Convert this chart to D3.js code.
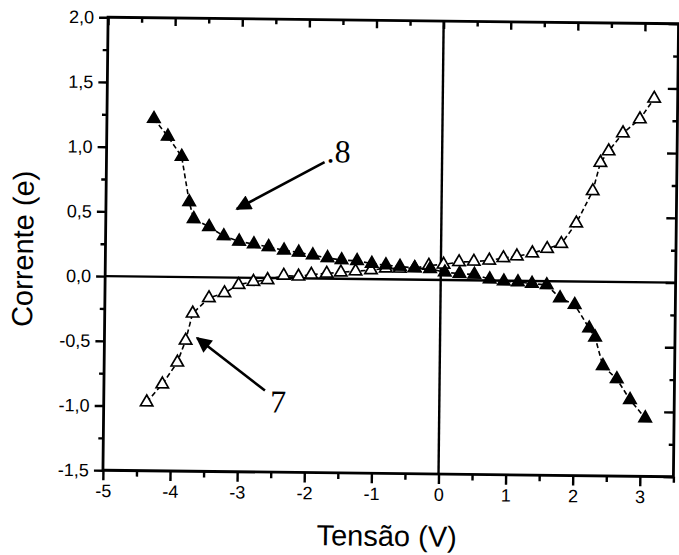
<!DOCTYPE html>
<html>
<head>
<meta charset="utf-8">
<script src="https://cdn.jsdelivr.net/npm/d3@7/dist/d3.min.js"></script>
<style>
  body { margin: 0; background: #fff; }
  svg { display: block; }
  .tick-label { font-family: "Liberation Sans", Arial, sans-serif; font-size: 18px; fill: #000; }
  .title { font-family: "Liberation Sans", Arial, sans-serif; font-size: 29px; fill: #000; }
  .note { font-family: "Liberation Serif", "Times New Roman", serif; font-size: 32px; fill: #000; }
</style>
</head>
<body>
<div id="chart"></div>
<script>
// curve with filled triangles (upper left -> lower right)
var voltFilled = [-4.30,-4.09,-3.88,-3.76,-3.69,-3.46,-3.24,-3.01,-2.79,-2.57,-2.34,-2.12,-1.91,-1.69,-1.48,-1.25,-1.03,-0.82,-0.61,-0.39,-0.16,0.06,0.28,0.50,0.73,0.94,1.15,1.36,1.58,1.78,2.00,2.22,2.31,2.43,2.64,2.84,3.07];
var currFilled = [1.22,1.085,0.93,0.58,0.45,0.39,0.32,0.28,0.26,0.24,0.215,0.20,0.18,0.16,0.145,0.14,0.12,0.11,0.10,0.09,0.085,0.06,0.05,0.045,0.01,-0.005,-0.01,-0.02,-0.03,-0.13,-0.18,-0.36,-0.43,-0.65,-0.75,-0.91,-1.05];
// curve with open triangles (lower left -> upper right)
var voltOpen = [-4.36,-4.13,-3.91,-3.79,-3.69,-3.45,-3.22,-3.01,-2.79,-2.58,-2.34,-2.12,-1.93,-1.70,-1.49,-1.27,-1.04,-0.82,-0.61,-0.39,-0.18,0.04,0.27,0.49,0.72,0.93,1.13,1.36,1.58,1.79,2.01,2.25,2.36,2.48,2.69,2.94,3.15];
var currOpen = [-0.97,-0.83,-0.66,-0.49,-0.28,-0.16,-0.12,-0.055,-0.03,-0.015,0.02,0.015,0.03,0.04,0.05,0.06,0.07,0.085,0.085,0.09,0.11,0.12,0.14,0.145,0.155,0.175,0.19,0.215,0.25,0.29,0.45,0.70,0.92,1.01,1.15,1.26,1.42];
var xTicks = [-5,-4,-3,-2,-1,0,1,2,3];
var xMinor = [-4.5,-3.5,-2.5,-1.5,-0.5,0.5,1.5,2.5,3.5];
var yTicks = [-1.5,-1.0,-0.5,0.0,0.5,1.0,1.5,2.0];
var yMinor = [-1.25,-0.75,-0.25,0.25,0.75,1.25,1.75];
var xLabel = "Tensão (V)";
var yLabel = "Corrente (e)";

var W = 679, H = 555;
var pLeft = 105.5, pRight = 676, pTop = 20.5, pBottom = 473.5;

var svg = d3.select("#chart").append("svg")
    .attr("width", W)
    .attr("height", H);

// the scanned page is slightly tilted
var g = svg.append("g")
    .attr("transform", "rotate(0.65," + ((pLeft + pRight) / 2) + "," + ((pTop + pBottom) / 2) + ")");

var x = d3.scaleLinear().domain([-5, 3.5]).range([pLeft, pRight]);
var y = d3.scaleLinear().domain([-1.5, 2.0]).range([pBottom, pTop]);

var ptBR = d3.formatLocale({decimal: ",", thousands: ".", grouping: [3], currency: ["", ""], minus: "-"});
var fmtY = ptBR.format(".1f");
var fmtX = ptBR.format("d");

//axes: bottom/left ticks outward, top/right mirror ticks inward
function styleAxis(sel) {
    sel.select(".domain").remove();
    sel.selectAll("line").attr("stroke", "#000").attr("stroke-width", 2.4);
}
g.append("g").attr("transform", "translate(0," + pBottom + ")")
    .call(d3.axisBottom(x).tickValues(xTicks).tickSize(10).tickPadding(4).tickFormat(fmtX))
    .call(styleAxis)
    .selectAll("text").attr("class", "tick-label");
g.append("g").attr("transform", "translate(0," + pBottom + ")")
    .call(d3.axisBottom(x).tickValues(xMinor).tickSize(6).tickFormat(""))
    .call(styleAxis);
g.append("g").attr("transform", "translate(" + pLeft + ",0)")
    .call(d3.axisLeft(y).tickValues(yTicks).tickSize(9).tickPadding(5).tickFormat(fmtY))
    .call(styleAxis)
    .selectAll("text").attr("class", "tick-label");
g.append("g").attr("transform", "translate(" + pLeft + ",0)")
    .call(d3.axisLeft(y).tickValues(yMinor).tickSize(5).tickFormat(""))
    .call(styleAxis);
g.append("g").attr("transform", "translate(0," + pTop + ")")
    .call(d3.axisBottom(x).tickValues(xTicks).tickSize(8).tickFormat(""))
    .call(styleAxis);
g.append("g").attr("transform", "translate(0," + pTop + ")")
    .call(d3.axisBottom(x).tickValues(xMinor).tickSize(5).tickFormat(""))
    .call(styleAxis);
g.append("g").attr("transform", "translate(" + pRight + ",0)")
    .call(d3.axisRight(y).tickValues(yTicks).tickSize(-10).tickFormat(""))
    .call(styleAxis);
g.append("g").attr("transform", "translate(" + pRight + ",0)")
    .call(d3.axisRight(y).tickValues(yMinor).tickSize(-5).tickFormat(""))
    .call(styleAxis);

// axis() puts its own font attrs on the group, let the css win
g.selectAll("g").attr("font-size", null).attr("font-family", null);

// frame
g.append("rect")
    .attr("x", pLeft).attr("y", pTop)
    .attr("width", pRight - pLeft).attr("height", pBottom - pTop)
    .attr("fill", "none").attr("stroke", "#000").attr("stroke-width", 2.8);

// zero lines
g.append("line")
    .attr("x1", pLeft).attr("x2", pRight)
    .attr("y1", y(0)).attr("y2", y(0))
    .attr("stroke", "#000").attr("stroke-width", 2.4);
g.append("line")
    .attr("x1", x(0)).attr("x2", x(0))
    .attr("y1", pTop).attr("y2", pBottom)
    .attr("stroke", "#000").attr("stroke-width", 2.4);

var line = d3.line().x(function (d) { return x(d[0]); }).y(function (d) { return y(d[1]); });
var tri = d3.symbol().type(d3.symbolTriangle).size(66);

function drawSeries(vs, cs, fill) {
    var pts = vs.map(function (v, i) { return [v, cs[i]]; });
    g.append("path")
        .datum(pts)
        .attr("d", line)
        .attr("fill", "none")
        .attr("stroke", "#000")
        .attr("stroke-width", 1.6)
        .attr("stroke-dasharray", "5,3");
    g.append("g").selectAll("path")
        .data(pts)
        .enter().append("path")
        .attr("d", tri)
        .attr("transform", function (d) { return "translate(" + x(d[0]) + "," + y(d[1]) + ")"; })
        .attr("fill", fill)
        .attr("stroke", "#000")
        .attr("stroke-width", 1.7);
}
drawSeries(voltOpen, currOpen, "#fff");
drawSeries(voltFilled, currFilled, "#000");

// annotations with arrows
svg.append("defs").append("marker")
    .attr("id", "head")
    .attr("viewBox", "0 0 10 10")
    .attr("refX", 9).attr("refY", 5)
    .attr("markerWidth", 7).attr("markerHeight", 6)
    .attr("markerUnits", "strokeWidth")
    .attr("orient", "auto")
    .append("path").attr("d", "M0,0 L10,5 L0,10 z").attr("fill", "#000");

function arrow(x1, y1, x2, y2) {
    g.append("line")
        .attr("x1", x(x1)).attr("y1", y(y1))
        .attr("x2", x(x2)).attr("y2", y(y2))
        .attr("stroke", "#000").attr("stroke-width", 2.6)
        .attr("marker-end", "url(#head)");
}
arrow(-1.75, 0.9, -3.05, 0.53);
g.append("text").attr("class", "note").attr("x", x(-1.72)).attr("y", y(0.9)).text(".8");
arrow(-2.6, -0.87, -3.62, -0.47);
g.append("text").attr("class", "note").attr("x", x(-2.52)).attr("y", y(-1.04)).text("7");

// axis titles
g.append("text").attr("class", "title")
    .attr("x", 390).attr("y", 546)
    .attr("text-anchor", "middle")
    .text(xLabel);
g.append("text").attr("class", "title")
    .attr("transform", "translate(33," + 253 + ") rotate(-90)")
    .attr("text-anchor", "middle")
    .text(yLabel);
</script>
</body>
</html>
